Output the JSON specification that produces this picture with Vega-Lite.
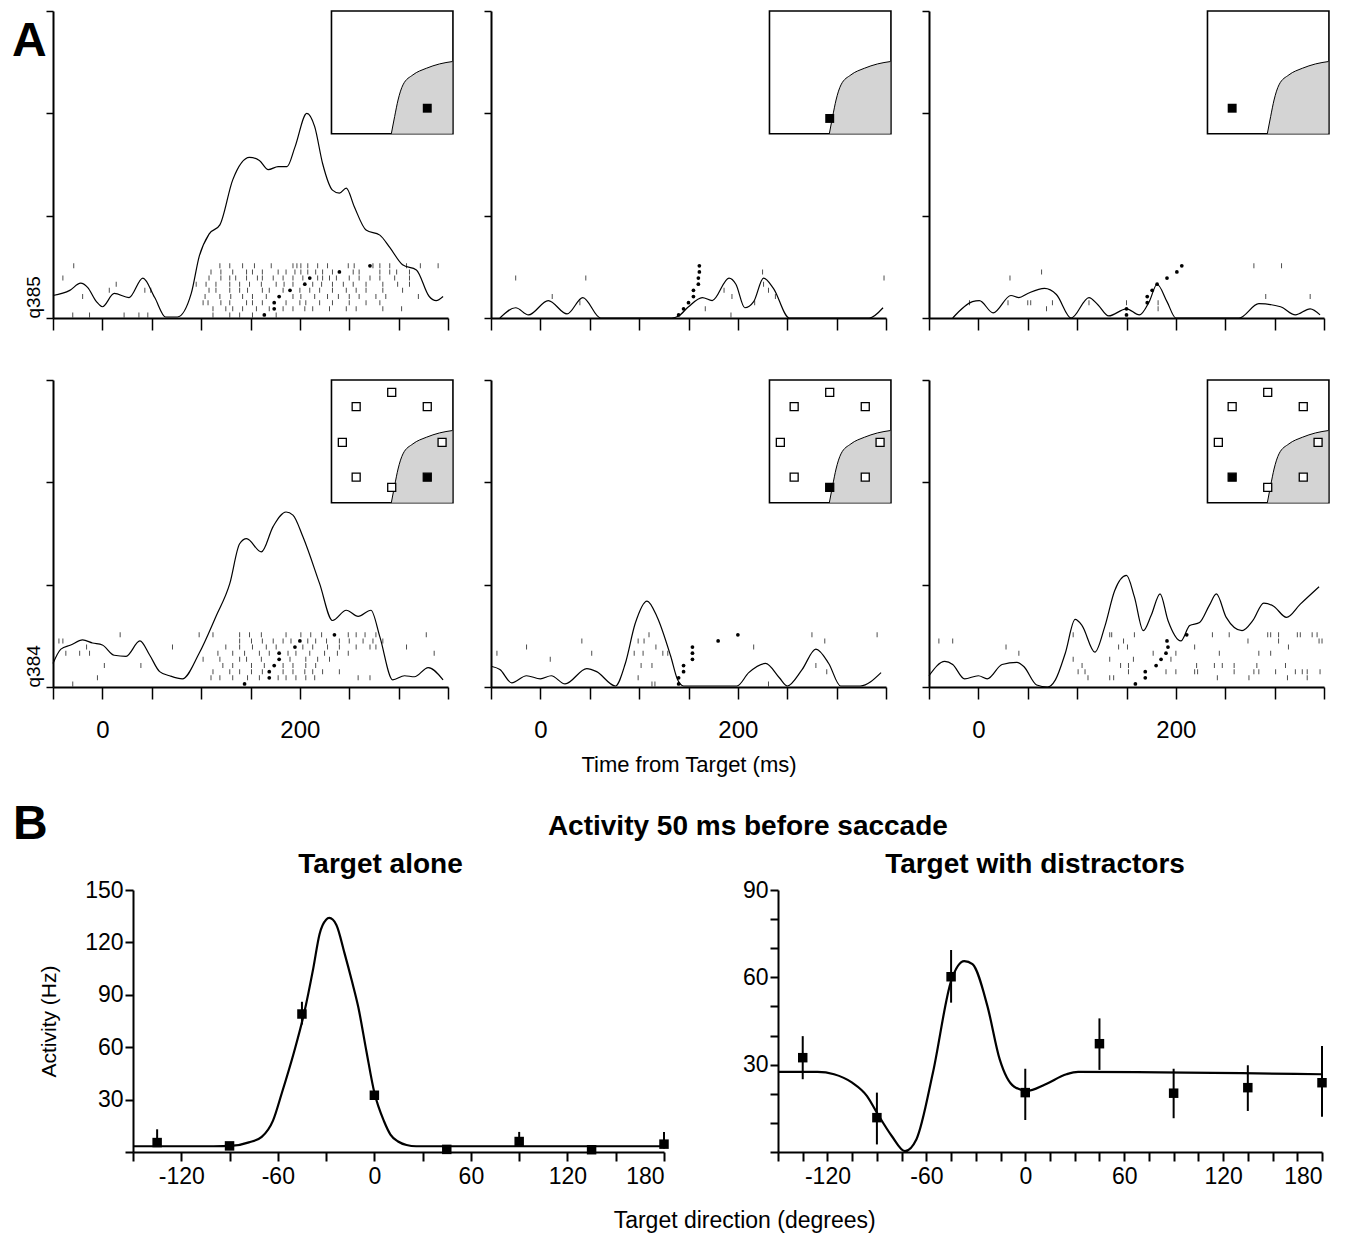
{
"$schema":"https://vega.github.io/schema/vega-lite/v6.json",
"background":"white",
"padding":{"left":12,"top":10,"right":3,"bottom":2},
"config":{"view":{"stroke":null},"font":"Liberation Sans","axis":{"domainColor":"black","tickColor":"black","labelColor":"black","titleColor":"black","grid":false,"labelFont":"Liberation Sans","titleFont":"Liberation Sans","titleFontWeight":"normal"},"title":{"font":"Liberation Sans","fontWeight":"bold","color":"black"}},
"datasets":{
"psth":[
{"p":"a11","t":-50,"v":22},{"p":"a11","t":-33,"v":27},{"p":"a11","t":-22,"v":34},{"p":"a11","t":-15,"v":30},{"p":"a11","t":-6,"v":16},{"p":"a11","t":0,"v":11},{"p":"a11","t":12,"v":24},{"p":"a11","t":27,"v":20},{"p":"a11","t":41,"v":39},{"p":"a11","t":53,"v":20},{"p":"a11","t":64,"v":1},{"p":"a11","t":76,"v":1},{"p":"a11","t":90,"v":24},{"p":"a11","t":98,"v":60},{"p":"a11","t":108,"v":82},{"p":"a11","t":119,"v":91},{"p":"a11","t":132,"v":135},{"p":"a11","t":149,"v":157},{"p":"a11","t":159,"v":154},{"p":"a11","t":168,"v":145},{"p":"a11","t":178,"v":148},{"p":"a11","t":187,"v":148},{"p":"a11","t":195,"v":167},{"p":"a11","t":207,"v":200},{"p":"a11","t":215,"v":187},{"p":"a11","t":223,"v":151},{"p":"a11","t":233,"v":125},{"p":"a11","t":240,"v":122},{"p":"a11","t":247,"v":127},{"p":"a11","t":255,"v":109},{"p":"a11","t":267,"v":86},{"p":"a11","t":281,"v":81},{"p":"a11","t":291,"v":69},{"p":"a11","t":304,"v":52},{"p":"a11","t":318,"v":47},{"p":"a11","t":331,"v":21},{"p":"a11","t":338,"v":17},{"p":"a11","t":345,"v":21},
{"p":"a12","t":-41,"v":0},{"p":"a12","t":-25,"v":10},{"p":"a12","t":-12,"v":3},{"p":"a12","t":8,"v":17},{"p":"a12","t":27,"v":4},{"p":"a12","t":43,"v":20},{"p":"a12","t":61,"v":0},{"p":"a12","t":133,"v":0},{"p":"a12","t":140,"v":2},{"p":"a12","t":150,"v":11},{"p":"a12","t":164,"v":20},{"p":"a12","t":174,"v":17},{"p":"a12","t":191,"v":39},{"p":"a12","t":198,"v":33},{"p":"a12","t":207,"v":10},{"p":"a12","t":216,"v":16},{"p":"a12","t":226,"v":39},{"p":"a12","t":236,"v":29},{"p":"a12","t":252,"v":0},{"p":"a12","t":333,"v":0},{"p":"a12","t":347,"v":10},
{"p":"a13","t":-26,"v":0},{"p":"a13","t":-6,"v":16},{"p":"a13","t":1,"v":17},{"p":"a13","t":15,"v":5},{"p":"a13","t":33,"v":22},{"p":"a13","t":41,"v":20},{"p":"a13","t":50,"v":24},{"p":"a13","t":67,"v":29},{"p":"a13","t":79,"v":23},{"p":"a13","t":94,"v":0},{"p":"a13","t":112,"v":20},{"p":"a13","t":121,"v":13},{"p":"a13","t":132,"v":2},{"p":"a13","t":150,"v":9},{"p":"a13","t":163,"v":3},{"p":"a13","t":173,"v":16},{"p":"a13","t":181,"v":33},{"p":"a13","t":191,"v":16},{"p":"a13","t":200,"v":0},{"p":"a13","t":264,"v":0},{"p":"a13","t":284,"v":14},{"p":"a13","t":306,"v":11},{"p":"a13","t":321,"v":3},{"p":"a13","t":336,"v":9},{"p":"a13","t":346,"v":3},
{"p":"a21","t":-50,"v":23},{"p":"a21","t":-42,"v":37},{"p":"a21","t":-32,"v":41},{"p":"a21","t":-20,"v":46},{"p":"a21","t":-10,"v":43},{"p":"a21","t":0,"v":41},{"p":"a21","t":12,"v":31},{"p":"a21","t":24,"v":30},{"p":"a21","t":38,"v":45},{"p":"a21","t":48,"v":31},{"p":"a21","t":58,"v":15},{"p":"a21","t":68,"v":11},{"p":"a21","t":81,"v":8},{"p":"a21","t":98,"v":33},{"p":"a21","t":115,"v":69},{"p":"a21","t":129,"v":101},{"p":"a21","t":139,"v":140},{"p":"a21","t":146,"v":145},{"p":"a21","t":161,"v":132},{"p":"a21","t":173,"v":157},{"p":"a21","t":186,"v":171},{"p":"a21","t":193,"v":168},{"p":"a21","t":203,"v":147},{"p":"a21","t":220,"v":101},{"p":"a21","t":233,"v":65},{"p":"a21","t":247,"v":75},{"p":"a21","t":259,"v":69},{"p":"a21","t":272,"v":75},{"p":"a21","t":281,"v":49},{"p":"a21","t":294,"v":7},{"p":"a21","t":306,"v":11},{"p":"a21","t":316,"v":10},{"p":"a21","t":330,"v":19},{"p":"a21","t":345,"v":7},
{"p":"a22","t":-49,"v":20},{"p":"a22","t":-41,"v":17},{"p":"a22","t":-29,"v":4},{"p":"a22","t":-14,"v":11},{"p":"a22","t":0,"v":8},{"p":"a22","t":11,"v":11},{"p":"a22","t":25,"v":3},{"p":"a22","t":47,"v":18},{"p":"a22","t":57,"v":15},{"p":"a22","t":76,"v":1},{"p":"a22","t":86,"v":23},{"p":"a22","t":96,"v":62},{"p":"a22","t":108,"v":84},{"p":"a22","t":118,"v":69},{"p":"a22","t":132,"v":30},{"p":"a22","t":139,"v":7},{"p":"a22","t":145,"v":1},{"p":"a22","t":199,"v":1},{"p":"a22","t":211,"v":14},{"p":"a22","t":228,"v":23},{"p":"a22","t":242,"v":9},{"p":"a22","t":250,"v":1},{"p":"a22","t":265,"v":17},{"p":"a22","t":279,"v":37},{"p":"a22","t":292,"v":23},{"p":"a22","t":304,"v":1},{"p":"a22","t":324,"v":1},{"p":"a22","t":345,"v":14},
{"p":"a23","t":-50,"v":11},{"p":"a23","t":-34,"v":25},{"p":"a23","t":-26,"v":22},{"p":"a23","t":-14,"v":8},{"p":"a23","t":0,"v":11},{"p":"a23","t":9,"v":8},{"p":"a23","t":24,"v":22},{"p":"a23","t":39,"v":24},{"p":"a23","t":46,"v":20},{"p":"a23","t":59,"v":2},{"p":"a23","t":70,"v":0},{"p":"a23","t":78,"v":7},{"p":"a23","t":88,"v":33},{"p":"a23","t":98,"v":66},{"p":"a23","t":105,"v":60},{"p":"a23","t":118,"v":34},{"p":"a23","t":128,"v":59},{"p":"a23","t":138,"v":94},{"p":"a23","t":150,"v":109},{"p":"a23","t":158,"v":88},{"p":"a23","t":167,"v":55},{"p":"a23","t":175,"v":70},{"p":"a23","t":184,"v":91},{"p":"a23","t":192,"v":65},{"p":"a23","t":205,"v":45},{"p":"a23","t":214,"v":60},{"p":"a23","t":224,"v":63},{"p":"a23","t":234,"v":80},{"p":"a23","t":241,"v":91},{"p":"a23","t":251,"v":68},{"p":"a23","t":267,"v":55},{"p":"a23","t":278,"v":65},{"p":"a23","t":289,"v":82},{"p":"a23","t":299,"v":79},{"p":"a23","t":312,"v":68},{"p":"a23","t":326,"v":81},{"p":"a23","t":345,"v":98}
],
"ras":[
{"p":"a11","t":-29,"v":51},{"p":"a11","t":119,"v":51},{"p":"a11","t":129,"v":51},{"p":"a11","t":142,"v":51},{"p":"a11","t":154,"v":51},{"p":"a11","t":171,"v":51},{"p":"a11","t":193,"v":51},{"p":"a11","t":197,"v":51},{"p":"a11","t":201,"v":51},{"p":"a11","t":208,"v":51},{"p":"a11","t":218,"v":51},{"p":"a11","t":228,"v":51},{"p":"a11","t":249,"v":51},{"p":"a11","t":255,"v":51},{"p":"a11","t":274,"v":51},{"p":"a11","t":281,"v":51},{"p":"a11","t":291,"v":51},{"p":"a11","t":308,"v":51},{"p":"a11","t":322,"v":51},{"p":"a11","t":340,"v":51},
{"p":"a11","t":110,"v":45},{"p":"a11","t":120,"v":45},{"p":"a11","t":132,"v":45},{"p":"a11","t":146,"v":45},{"p":"a11","t":152,"v":45},{"p":"a11","t":162,"v":45},{"p":"a11","t":178,"v":45},{"p":"a11","t":186,"v":45},{"p":"a11","t":195,"v":45},{"p":"a11","t":201,"v":45},{"p":"a11","t":208,"v":45},{"p":"a11","t":216,"v":45},{"p":"a11","t":223,"v":45},{"p":"a11","t":233,"v":45},{"p":"a11","t":254,"v":45},{"p":"a11","t":260,"v":45},{"p":"a11","t":281,"v":45},{"p":"a11","t":291,"v":45},{"p":"a11","t":298,"v":45},{"p":"a11","t":311,"v":45},
{"p":"a11","t":-40,"v":39},{"p":"a11","t":108,"v":39},{"p":"a11","t":120,"v":39},{"p":"a11","t":129,"v":39},{"p":"a11","t":135,"v":39},{"p":"a11","t":146,"v":39},{"p":"a11","t":157,"v":39},{"p":"a11","t":162,"v":39},{"p":"a11","t":173,"v":39},{"p":"a11","t":183,"v":39},{"p":"a11","t":193,"v":39},{"p":"a11","t":203,"v":39},{"p":"a11","t":218,"v":39},{"p":"a11","t":223,"v":39},{"p":"a11","t":230,"v":39},{"p":"a11","t":237,"v":39},{"p":"a11","t":250,"v":39},{"p":"a11","t":260,"v":39},{"p":"a11","t":271,"v":39},{"p":"a11","t":281,"v":39},{"p":"a11","t":296,"v":39},{"p":"a11","t":311,"v":39},
{"p":"a11","t":14,"v":33},{"p":"a11","t":95,"v":33},{"p":"a11","t":105,"v":33},{"p":"a11","t":115,"v":33},{"p":"a11","t":129,"v":33},{"p":"a11","t":139,"v":33},{"p":"a11","t":149,"v":33},{"p":"a11","t":161,"v":33},{"p":"a11","t":176,"v":33},{"p":"a11","t":184,"v":33},{"p":"a11","t":193,"v":33},{"p":"a11","t":213,"v":33},{"p":"a11","t":222,"v":33},{"p":"a11","t":233,"v":33},{"p":"a11","t":244,"v":33},{"p":"a11","t":254,"v":33},{"p":"a11","t":267,"v":33},{"p":"a11","t":284,"v":33},{"p":"a11","t":299,"v":33},{"p":"a11","t":311,"v":33},
{"p":"a11","t":7,"v":27},{"p":"a11","t":43,"v":27},{"p":"a11","t":49,"v":27},{"p":"a11","t":108,"v":27},{"p":"a11","t":115,"v":27},{"p":"a11","t":129,"v":27},{"p":"a11","t":139,"v":27},{"p":"a11","t":147,"v":27},{"p":"a11","t":162,"v":27},{"p":"a11","t":169,"v":27},{"p":"a11","t":183,"v":27},{"p":"a11","t":200,"v":27},{"p":"a11","t":210,"v":27},{"p":"a11","t":220,"v":27},{"p":"a11","t":233,"v":27},{"p":"a11","t":247,"v":27},{"p":"a11","t":257,"v":27},{"p":"a11","t":267,"v":27},{"p":"a11","t":284,"v":27},{"p":"a11","t":304,"v":27},
{"p":"a11","t":-20,"v":21},{"p":"a11","t":104,"v":21},{"p":"a11","t":119,"v":21},{"p":"a11","t":130,"v":21},{"p":"a11","t":142,"v":21},{"p":"a11","t":152,"v":21},{"p":"a11","t":166,"v":21},{"p":"a11","t":193,"v":21},{"p":"a11","t":201,"v":21},{"p":"a11","t":215,"v":21},{"p":"a11","t":228,"v":21},{"p":"a11","t":239,"v":21},{"p":"a11","t":250,"v":21},{"p":"a11","t":260,"v":21},{"p":"a11","t":277,"v":21},{"p":"a11","t":287,"v":21},{"p":"a11","t":320,"v":21},
{"p":"a11","t":102,"v":15},{"p":"a11","t":107,"v":15},{"p":"a11","t":120,"v":15},{"p":"a11","t":129,"v":15},{"p":"a11","t":146,"v":15},{"p":"a11","t":152,"v":15},{"p":"a11","t":162,"v":15},{"p":"a11","t":186,"v":15},{"p":"a11","t":200,"v":15},{"p":"a11","t":206,"v":15},{"p":"a11","t":220,"v":15},{"p":"a11","t":233,"v":15},{"p":"a11","t":250,"v":15},{"p":"a11","t":267,"v":15},{"p":"a11","t":281,"v":15},
{"p":"a11","t":112,"v":9},{"p":"a11","t":125,"v":9},{"p":"a11","t":132,"v":9},{"p":"a11","t":142,"v":9},{"p":"a11","t":156,"v":9},{"p":"a11","t":169,"v":9},{"p":"a11","t":183,"v":9},{"p":"a11","t":193,"v":9},{"p":"a11","t":205,"v":9},{"p":"a11","t":213,"v":9},{"p":"a11","t":230,"v":9},{"p":"a11","t":247,"v":9},{"p":"a11","t":257,"v":9},{"p":"a11","t":284,"v":9},{"p":"a11","t":303,"v":9},
{"p":"a11","t":-30,"v":3},{"p":"a11","t":-13,"v":3},{"p":"a11","t":22,"v":3},{"p":"a11","t":37,"v":3},{"p":"a11","t":46,"v":3},{"p":"a11","t":112,"v":3},{"p":"a11","t":129,"v":3},{"p":"a11","t":139,"v":3},{"p":"a11","t":152,"v":3},{"p":"a11","t":176,"v":3},
{"p":"a12","t":-25,"v":39},{"p":"a12","t":46,"v":39},{"p":"a12","t":348,"v":39},{"p":"a12","t":12,"v":21},{"p":"a12","t":40,"v":15},{"p":"a12","t":167,"v":9},{"p":"a12","t":186,"v":27},{"p":"a12","t":194,"v":21},{"p":"a12","t":225,"v":45},{"p":"a12","t":226,"v":33},{"p":"a12","t":231,"v":27},{"p":"a12","t":238,"v":21},{"p":"a12","t":217,"v":15},{"p":"a12","t":193,"v":3},
{"p":"a13","t":32,"v":39},{"p":"a13","t":64,"v":45},{"p":"a13","t":30,"v":15},{"p":"a13","t":50,"v":15},{"p":"a13","t":53,"v":15},{"p":"a13","t":75,"v":15},{"p":"a13","t":69,"v":9},{"p":"a13","t":-9,"v":15},{"p":"a13","t":112,"v":15},{"p":"a13","t":150,"v":15},{"p":"a13","t":182,"v":15},{"p":"a13","t":182,"v":9},{"p":"a13","t":279,"v":51},{"p":"a13","t":307,"v":51},{"p":"a13","t":291,"v":21},{"p":"a13","t":336,"v":21},
{"p":"a21","t":18,"v":51},{"p":"a21","t":98,"v":51},{"p":"a21","t":112,"v":51},{"p":"a21","t":139,"v":51},{"p":"a21","t":149,"v":51},{"p":"a21","t":161,"v":51},{"p":"a21","t":186,"v":51},{"p":"a21","t":201,"v":51},{"p":"a21","t":211,"v":51},{"p":"a21","t":222,"v":51},{"p":"a21","t":249,"v":51},{"p":"a21","t":257,"v":51},{"p":"a21","t":266,"v":51},{"p":"a21","t":277,"v":51},{"p":"a21","t":328,"v":51},
{"p":"a21","t":-44,"v":45},{"p":"a21","t":-40,"v":45},{"p":"a21","t":139,"v":45},{"p":"a21","t":151,"v":45},{"p":"a21","t":162,"v":45},{"p":"a21","t":173,"v":45},{"p":"a21","t":183,"v":45},{"p":"a21","t":191,"v":45},{"p":"a21","t":208,"v":45},{"p":"a21","t":216,"v":45},{"p":"a21","t":227,"v":45},{"p":"a21","t":240,"v":45},{"p":"a21","t":250,"v":45},{"p":"a21","t":264,"v":45},{"p":"a21","t":274,"v":45},{"p":"a21","t":284,"v":45},
{"p":"a21","t":-16,"v":39},{"p":"a21","t":71,"v":39},{"p":"a21","t":125,"v":39},{"p":"a21","t":139,"v":39},{"p":"a21","t":152,"v":39},{"p":"a21","t":166,"v":39},{"p":"a21","t":176,"v":39},{"p":"a21","t":203,"v":39},{"p":"a21","t":213,"v":39},{"p":"a21","t":228,"v":39},{"p":"a21","t":240,"v":39},{"p":"a21","t":257,"v":39},{"p":"a21","t":271,"v":39},{"p":"a21","t":277,"v":39},{"p":"a21","t":308,"v":39},
{"p":"a21","t":-37,"v":33},{"p":"a21","t":-23,"v":33},{"p":"a21","t":-13,"v":33},{"p":"a21","t":117,"v":33},{"p":"a21","t":132,"v":33},{"p":"a21","t":144,"v":33},{"p":"a21","t":159,"v":33},{"p":"a21","t":169,"v":33},{"p":"a21","t":188,"v":33},{"p":"a21","t":196,"v":33},{"p":"a21","t":210,"v":33},{"p":"a21","t":225,"v":33},{"p":"a21","t":238,"v":33},{"p":"a21","t":249,"v":33},{"p":"a21","t":336,"v":33},
{"p":"a21","t":102,"v":27},{"p":"a21","t":119,"v":27},{"p":"a21","t":139,"v":27},{"p":"a21","t":146,"v":27},{"p":"a21","t":161,"v":27},{"p":"a21","t":190,"v":27},{"p":"a21","t":206,"v":27},{"p":"a21","t":218,"v":27},{"p":"a21","t":230,"v":27},
{"p":"a21","t":2,"v":21},{"p":"a21","t":39,"v":21},{"p":"a21","t":122,"v":21},{"p":"a21","t":132,"v":21},{"p":"a21","t":151,"v":21},{"p":"a21","t":164,"v":21},{"p":"a21","t":183,"v":21},{"p":"a21","t":193,"v":21},{"p":"a21","t":206,"v":21},{"p":"a21","t":216,"v":21},
{"p":"a21","t":112,"v":15},{"p":"a21","t":129,"v":15},{"p":"a21","t":139,"v":15},{"p":"a21","t":151,"v":15},{"p":"a21","t":162,"v":15},{"p":"a21","t":183,"v":15},{"p":"a21","t":193,"v":15},{"p":"a21","t":205,"v":15},{"p":"a21","t":213,"v":15},{"p":"a21","t":223,"v":15},{"p":"a21","t":240,"v":15},
{"p":"a21","t":-5,"v":9},{"p":"a21","t":110,"v":9},{"p":"a21","t":119,"v":9},{"p":"a21","t":132,"v":9},{"p":"a21","t":147,"v":9},{"p":"a21","t":159,"v":9},{"p":"a21","t":178,"v":9},{"p":"a21","t":186,"v":9},{"p":"a21","t":196,"v":9},{"p":"a21","t":206,"v":9},{"p":"a21","t":215,"v":9},{"p":"a21","t":259,"v":9},{"p":"a21","t":271,"v":9},
{"p":"a21","t":-30,"v":3},
{"p":"a22","t":-44,"v":33},{"p":"a22","t":-14,"v":39},{"p":"a22","t":10,"v":27},{"p":"a22","t":42,"v":45},{"p":"a22","t":52,"v":33},{"p":"a22","t":99,"v":45},{"p":"a22","t":105,"v":45},{"p":"a22","t":110,"v":51},{"p":"a22","t":117,"v":39},{"p":"a22","t":95,"v":33},{"p":"a22","t":104,"v":33},{"p":"a22","t":124,"v":33},{"p":"a22","t":129,"v":33},{"p":"a22","t":102,"v":21},{"p":"a22","t":113,"v":21},{"p":"a22","t":99,"v":9},{"p":"a22","t":113,"v":3},{"p":"a22","t":116,"v":3},{"p":"a22","t":216,"v":39},{"p":"a22","t":231,"v":3},{"p":"a22","t":275,"v":51},{"p":"a22","t":288,"v":45},{"p":"a22","t":279,"v":21},{"p":"a22","t":290,"v":15},{"p":"a22","t":341,"v":51},
{"p":"a23","t":96,"v":51},{"p":"a23","t":133,"v":51},{"p":"a23","t":135,"v":51},{"p":"a23","t":158,"v":51},{"p":"a23","t":237,"v":51},{"p":"a23","t":254,"v":51},{"p":"a23","t":293,"v":51},{"p":"a23","t":296,"v":51},{"p":"a23","t":304,"v":51},{"p":"a23","t":323,"v":51},{"p":"a23","t":326,"v":51},{"p":"a23","t":338,"v":51},{"p":"a23","t":343,"v":51},
{"p":"a23","t":-40,"v":45},{"p":"a23","t":-26,"v":45},{"p":"a23","t":147,"v":45},{"p":"a23","t":273,"v":45},{"p":"a23","t":304,"v":45},{"p":"a23","t":345,"v":45},{"p":"a23","t":348,"v":45},
{"p":"a23","t":28,"v":39},{"p":"a23","t":142,"v":39},{"p":"a23","t":151,"v":39},{"p":"a23","t":219,"v":39},{"p":"a23","t":314,"v":39},
{"p":"a23","t":41,"v":33},{"p":"a23","t":177,"v":33},{"p":"a23","t":200,"v":33},{"p":"a23","t":244,"v":33},{"p":"a23","t":284,"v":33},{"p":"a23","t":296,"v":33},
{"p":"a23","t":96,"v":27},{"p":"a23","t":133,"v":27},{"p":"a23","t":157,"v":27},{"p":"a23","t":195,"v":27},
{"p":"a23","t":105,"v":21},{"p":"a23","t":144,"v":21},{"p":"a23","t":152,"v":21},{"p":"a23","t":221,"v":21},{"p":"a23","t":239,"v":21},{"p":"a23","t":247,"v":21},{"p":"a23","t":259,"v":21},{"p":"a23","t":282,"v":21},{"p":"a23","t":311,"v":21},
{"p":"a23","t":101,"v":15},{"p":"a23","t":108,"v":15},{"p":"a23","t":152,"v":15},{"p":"a23","t":190,"v":15},{"p":"a23","t":200,"v":15},{"p":"a23","t":219,"v":15},{"p":"a23","t":222,"v":15},{"p":"a23","t":259,"v":15},{"p":"a23","t":279,"v":15},{"p":"a23","t":284,"v":15},{"p":"a23","t":301,"v":15},{"p":"a23","t":321,"v":15},{"p":"a23","t":328,"v":15},{"p":"a23","t":333,"v":15},{"p":"a23","t":346,"v":15},
{"p":"a23","t":111,"v":9},{"p":"a23","t":133,"v":9},{"p":"a23","t":137,"v":9},{"p":"a23","t":242,"v":9},{"p":"a23","t":274,"v":9},{"p":"a23","t":313,"v":9},{"p":"a23","t":333,"v":9}
],
"dot":[
{"p":"a11","t":164,"v":3},{"p":"a11","t":174,"v":9},{"p":"a11","t":174,"v":15},{"p":"a11","t":179,"v":21},{"p":"a11","t":190,"v":27},{"p":"a11","t":205,"v":33},{"p":"a11","t":210,"v":39},{"p":"a11","t":240,"v":45},{"p":"a11","t":271,"v":51},
{"p":"a12","t":140,"v":3},{"p":"a12","t":145,"v":9},{"p":"a12","t":150,"v":15},{"p":"a12","t":155,"v":21},{"p":"a12","t":155,"v":27},{"p":"a12","t":160,"v":33},{"p":"a12","t":160,"v":39},{"p":"a12","t":161,"v":45},{"p":"a12","t":161,"v":51},
{"p":"a13","t":150,"v":3},{"p":"a13","t":150,"v":9},{"p":"a13","t":171,"v":15},{"p":"a13","t":171,"v":21},{"p":"a13","t":176,"v":27},{"p":"a13","t":181,"v":33},{"p":"a13","t":191,"v":39},{"p":"a13","t":201,"v":45},{"p":"a13","t":206,"v":51},
{"p":"a21","t":144,"v":3},{"p":"a21","t":169,"v":9},{"p":"a21","t":169,"v":15},{"p":"a21","t":174,"v":21},{"p":"a21","t":179,"v":27},{"p":"a21","t":179,"v":33},{"p":"a21","t":195,"v":39},{"p":"a21","t":200,"v":45},{"p":"a21","t":235,"v":51},
{"p":"a22","t":140,"v":3},{"p":"a22","t":140,"v":9},{"p":"a22","t":145,"v":15},{"p":"a22","t":145,"v":21},{"p":"a22","t":154,"v":27},{"p":"a22","t":154,"v":33},{"p":"a22","t":154,"v":39},{"p":"a22","t":180,"v":45},{"p":"a22","t":200,"v":51},
{"p":"a23","t":159,"v":3},{"p":"a23","t":169,"v":9},{"p":"a23","t":169,"v":15},{"p":"a23","t":180,"v":21},{"p":"a23","t":185,"v":27},{"p":"a23","t":190,"v":33},{"p":"a23","t":192,"v":39},{"p":"a23","t":191,"v":45},{"p":"a23","t":211,"v":51}
],
"box":[{"t":232,"t2":355,"v":180,"v2":300}],
"rf":[{"t":292.6,"v":180},{"t":296,"v":197},{"t":299.4,"v":213},{"t":304.4,"v":227.8},{"t":314.5,"v":237.6},{"t":328,"v":244},{"t":341.5,"v":248.3},{"t":354.4,"v":250.6}],
"sq":[{"d":90,"t":293,"v":288},{"d":135,"t":257,"v":274},{"d":45,"t":329,"v":274},{"d":180,"t":243,"v":239},{"d":0,"t":344,"v":239},{"d":-135,"t":257,"v":205},{"d":-90,"t":293,"v":195},{"d":-45,"t":329,"v":205}],
"bcur":[
{"g":"A","d":-150,"v":3.3},{"g":"A","d":-100,"v":3.3},{"g":"A","d":-88,"v":3.6},{"g":"A","d":-78,"v":5.5},{"g":"A","d":-70,"v":8.7},{"g":"A","d":-63,"v":18},{"g":"A","d":-57.5,"v":33.8},{"g":"A","d":-50,"v":57},{"g":"A","d":-43.6,"v":79.7},{"g":"A","d":-38,"v":105},{"g":"A","d":-34,"v":125},{"g":"A","d":-30,"v":133},{"g":"A","d":-28,"v":134},{"g":"A","d":-23.6,"v":130},{"g":"A","d":-18.6,"v":114},{"g":"A","d":-14,"v":98},{"g":"A","d":-10,"v":83},{"g":"A","d":-5,"v":58},{"g":"A","d":0,"v":34},{"g":"A","d":6,"v":17.6},{"g":"A","d":10,"v":10},{"g":"A","d":14.7,"v":6},{"g":"A","d":20,"v":4},{"g":"A","d":26,"v":3.3},{"g":"A","d":180,"v":3.3},
{"g":"D","d":-150,"v":27.5},{"g":"D","d":-126,"v":27.5},{"g":"D","d":-116,"v":26.7},{"g":"D","d":-105,"v":23.8},{"g":"D","d":-96,"v":19.2},{"g":"D","d":-90,"v":13.5},{"g":"D","d":-81,"v":5.5},{"g":"D","d":-73,"v":0.3},{"g":"D","d":-66,"v":4.4},{"g":"D","d":-56,"v":27.3},{"g":"D","d":-45,"v":58.7},{"g":"D","d":-37,"v":65.6},{"g":"D","d":-32,"v":64.5},{"g":"D","d":-23,"v":50.2},{"g":"D","d":-15.5,"v":31.8},{"g":"D","d":-6.7,"v":22.4},{"g":"D","d":1,"v":21},{"g":"D","d":12,"v":23.2},{"g":"D","d":25,"v":26.7},{"g":"D","d":32,"v":27.5},{"g":"D","d":180,"v":26.7}
],
"bpt":[
{"g":"A","d":-135,"v":5.4},{"g":"A","d":-90,"v":3.5},{"g":"A","d":-45,"v":79},{"g":"A","d":0,"v":32.5},{"g":"A","d":45,"v":1.5},{"g":"A","d":90,"v":6},{"g":"A","d":135,"v":1.3},{"g":"A","d":180,"v":4.5},
{"g":"D","d":-135,"v":32.4},{"g":"D","d":-90,"v":11.8},{"g":"D","d":-45,"v":60.2},{"g":"D","d":0,"v":20.4},{"g":"D","d":45,"v":37.2},{"g":"D","d":90,"v":20.2},{"g":"D","d":135,"v":22.1},{"g":"D","d":180,"v":23.8}
],
"berr":[
{"g":"A","d":-135,"v":3,"v2":13},{"g":"A","d":-45,"v":73,"v2":86},{"g":"A","d":90,"v":4,"v2":11.5},{"g":"A","d":180,"v":2,"v2":11.5},
{"g":"D","d":-135,"v":25,"v2":39.8},{"g":"D","d":-90,"v":2.6,"v2":20.4},{"g":"D","d":-45,"v":51.3,"v2":69.4},{"g":"D","d":0,"v":11,"v2":28.6},{"g":"D","d":45,"v":28.2,"v2":45.9},{"g":"D","d":90,"v":11.6,"v2":28.6},{"g":"D","d":135,"v":14.1,"v2":29.8},{"g":"D","d":180,"v":12.1,"v2":36.4}
]
},
"spacing":26,
"vconcat":[
{"columns":3,"align":"all","bounds":"flush","spacing":{"row":62,"column":43},
"concat":[
{"width":395,"height":307,
"title":{"text":"A","anchor":"start","frame":"group","fontSize":48,"dx":-41,"offset":-56},
"encoding":{"x":{"field":"t","type":"quantitative","scale":{"domain":[-50,350],"nice":false,"zero":false},"axis":{"values":[-50,0,50,100,150,200,250,300,350],"labels":false,"tickSize":12,"tickWidth":1.5,"domainWidth":2,"title":null}},
"y":{"field":"v","type":"quantitative","scale":{"domain":[0,300],"nice":false},"axis":{"values":[0,100,200,300],"labels":false,"tickSize":7,"tickWidth":1.5,"domainWidth":2,"title":"q385","titleAnchor":"start","titleAngle":270,"titlePadding":2,"titleFontSize":19}}},
"layer":[
{"data":{"values":[{}]},"mark":{"type":"rule","color":"black","strokeWidth":1},"encoding":{"x":{"datum":0},"y":{"datum":0},"y2":{"datum":300}}},
{"data":{"name":"psth"},"transform":[{"filter":"datum.p=='a11'"}],"mark":{"type":"line","color":"black","strokeWidth":1.2,"interpolate":"monotone"}},
{"data":{"name":"ras"},"transform":[{"filter":"datum.p=='a11'"}],"mark":{"type":"tick","orient":"vertical","color":"black","size":5,"thickness":1}},
{"data":{"name":"dot"},"transform":[{"filter":"datum.p=='a11'"}],"mark":{"type":"circle","color":"black","size":14,"opacity":1}},
{"data":{"name":"box"},"mark":{"type":"rect","fill":"white","stroke":"black","strokeWidth":1.6},"encoding":{"x2":{"field":"t2"},"y2":{"field":"v2"}}},
{"data":{"name":"rf"},"mark":{"type":"area","color":"#d4d4d4","opacity":1,"interpolate":"monotone","line":{"color":"black","strokeWidth":1}},"encoding":{"y2":{"datum":180}}},
{"data":{"name":"sq"},"transform":[{"filter":"datum.d==-45"}],"mark":{"type":"point","shape":"square","filled":true,"color":"black","size":80,"opacity":1}}
]},
{"width":395,"height":307,
"encoding":{"x":{"field":"t","type":"quantitative","scale":{"domain":[-50,350],"nice":false,"zero":false},"axis":{"values":[-50,0,50,100,150,200,250,300,350],"labels":false,"tickSize":12,"tickWidth":1.5,"domainWidth":2,"title":null}},
"y":{"field":"v","type":"quantitative","scale":{"domain":[0,300],"nice":false},"axis":{"values":[0,100,200,300],"labels":false,"tickSize":7,"tickWidth":1.5,"domainWidth":2,"title":null}}},
"layer":[
{"data":{"values":[{}]},"mark":{"type":"rule","color":"black","strokeWidth":1},"encoding":{"x":{"datum":0},"y":{"datum":0},"y2":{"datum":300}}},
{"data":{"name":"psth"},"transform":[{"filter":"datum.p=='a12'"}],"mark":{"type":"line","color":"black","strokeWidth":1.2,"interpolate":"monotone"}},
{"data":{"name":"ras"},"transform":[{"filter":"datum.p=='a12'"}],"mark":{"type":"tick","orient":"vertical","color":"black","size":5,"thickness":1}},
{"data":{"name":"dot"},"transform":[{"filter":"datum.p=='a12'"}],"mark":{"type":"circle","color":"black","size":14,"opacity":1}},
{"data":{"name":"box"},"mark":{"type":"rect","fill":"white","stroke":"black","strokeWidth":1.6},"encoding":{"x2":{"field":"t2"},"y2":{"field":"v2"}}},
{"data":{"name":"rf"},"mark":{"type":"area","color":"#d4d4d4","opacity":1,"interpolate":"monotone","line":{"color":"black","strokeWidth":1}},"encoding":{"y2":{"datum":180}}},
{"data":{"name":"sq"},"transform":[{"filter":"datum.d==-90"}],"mark":{"type":"point","shape":"square","filled":true,"color":"black","size":80,"opacity":1}}
]},
{"width":395,"height":307,
"encoding":{"x":{"field":"t","type":"quantitative","scale":{"domain":[-50,350],"nice":false,"zero":false},"axis":{"values":[-50,0,50,100,150,200,250,300,350],"labels":false,"tickSize":12,"tickWidth":1.5,"domainWidth":2,"title":null}},
"y":{"field":"v","type":"quantitative","scale":{"domain":[0,300],"nice":false},"axis":{"values":[0,100,200,300],"labels":false,"tickSize":7,"tickWidth":1.5,"domainWidth":2,"title":null}}},
"layer":[
{"data":{"values":[{}]},"mark":{"type":"rule","color":"black","strokeWidth":1},"encoding":{"x":{"datum":0},"y":{"datum":0},"y2":{"datum":300}}},
{"data":{"name":"psth"},"transform":[{"filter":"datum.p=='a13'"}],"mark":{"type":"line","color":"black","strokeWidth":1.2,"interpolate":"monotone"}},
{"data":{"name":"ras"},"transform":[{"filter":"datum.p=='a13'"}],"mark":{"type":"tick","orient":"vertical","color":"black","size":5,"thickness":1}},
{"data":{"name":"dot"},"transform":[{"filter":"datum.p=='a13'"}],"mark":{"type":"circle","color":"black","size":14,"opacity":1}},
{"data":{"name":"box"},"mark":{"type":"rect","fill":"white","stroke":"black","strokeWidth":1.6},"encoding":{"x2":{"field":"t2"},"y2":{"field":"v2"}}},
{"data":{"name":"rf"},"mark":{"type":"area","color":"#d4d4d4","opacity":1,"interpolate":"monotone","line":{"color":"black","strokeWidth":1}},"encoding":{"y2":{"datum":180}}},
{"data":{"name":"sq"},"transform":[{"filter":"datum.d==-135"}],"mark":{"type":"point","shape":"square","filled":true,"color":"black","size":80,"opacity":1}}
]},
{"width":395,"height":307,
"encoding":{"x":{"field":"t","type":"quantitative","scale":{"domain":[-50,350],"nice":false,"zero":false},"axis":{"values":[-50,0,50,100,150,200,250,300,350],"labelExpr":"datum.value==0||datum.value==200?datum.label:''","labelFontSize":24,"labelPadding":19,"tickSize":12,"tickWidth":1.5,"domainWidth":2,"title":null}},
"y":{"field":"v","type":"quantitative","scale":{"domain":[0,300],"nice":false},"axis":{"values":[0,100,200,300],"labels":false,"tickSize":7,"tickWidth":1.5,"domainWidth":2,"title":"q384","titleAnchor":"start","titleAngle":270,"titlePadding":2,"titleFontSize":19}}},
"layer":[
{"data":{"values":[{}]},"mark":{"type":"rule","color":"black","strokeWidth":1},"encoding":{"x":{"datum":0},"y":{"datum":0},"y2":{"datum":300}}},
{"data":{"name":"psth"},"transform":[{"filter":"datum.p=='a21'"}],"mark":{"type":"line","color":"black","strokeWidth":1.2,"interpolate":"monotone"}},
{"data":{"name":"ras"},"transform":[{"filter":"datum.p=='a21'"}],"mark":{"type":"tick","orient":"vertical","color":"black","size":5,"thickness":1}},
{"data":{"name":"dot"},"transform":[{"filter":"datum.p=='a21'"}],"mark":{"type":"circle","color":"black","size":14,"opacity":1}},
{"data":{"name":"box"},"mark":{"type":"rect","fill":"white","stroke":"black","strokeWidth":1.6},"encoding":{"x2":{"field":"t2"},"y2":{"field":"v2"}}},
{"data":{"name":"rf"},"mark":{"type":"area","color":"#d4d4d4","opacity":1,"interpolate":"monotone","line":{"color":"black","strokeWidth":1}},"encoding":{"y2":{"datum":180}}},
{"data":{"name":"sq"},"mark":{"type":"point","shape":"square","filled":true,"stroke":"black","strokeWidth":1.3,"size":64,"opacity":1},"encoding":{"fill":{"condition":{"test":"datum.d==-45","value":"black"},"value":"white"}}}
]},
{"width":395,"height":307,
"encoding":{"x":{"field":"t","type":"quantitative","scale":{"domain":[-50,350],"nice":false,"zero":false},"axis":{"values":[-50,0,50,100,150,200,250,300,350],"labelExpr":"datum.value==0||datum.value==200?datum.label:''","labelFontSize":24,"labelPadding":19,"tickSize":12,"tickWidth":1.5,"domainWidth":2,"title":"Time from Target (ms)","titleFontSize":22,"titlePadding":12}},
"y":{"field":"v","type":"quantitative","scale":{"domain":[0,300],"nice":false},"axis":{"values":[0,100,200,300],"labels":false,"tickSize":7,"tickWidth":1.5,"domainWidth":2,"title":null}}},
"layer":[
{"data":{"values":[{}]},"mark":{"type":"rule","color":"black","strokeWidth":1},"encoding":{"x":{"datum":0},"y":{"datum":0},"y2":{"datum":300}}},
{"data":{"name":"psth"},"transform":[{"filter":"datum.p=='a22'"}],"mark":{"type":"line","color":"black","strokeWidth":1.2,"interpolate":"monotone"}},
{"data":{"name":"ras"},"transform":[{"filter":"datum.p=='a22'"}],"mark":{"type":"tick","orient":"vertical","color":"black","size":5,"thickness":1}},
{"data":{"name":"dot"},"transform":[{"filter":"datum.p=='a22'"}],"mark":{"type":"circle","color":"black","size":14,"opacity":1}},
{"data":{"name":"box"},"mark":{"type":"rect","fill":"white","stroke":"black","strokeWidth":1.6},"encoding":{"x2":{"field":"t2"},"y2":{"field":"v2"}}},
{"data":{"name":"rf"},"mark":{"type":"area","color":"#d4d4d4","opacity":1,"interpolate":"monotone","line":{"color":"black","strokeWidth":1}},"encoding":{"y2":{"datum":180}}},
{"data":{"name":"sq"},"mark":{"type":"point","shape":"square","filled":true,"stroke":"black","strokeWidth":1.3,"size":64,"opacity":1},"encoding":{"fill":{"condition":{"test":"datum.d==-90","value":"black"},"value":"white"}}}
]},
{"width":395,"height":307,
"encoding":{"x":{"field":"t","type":"quantitative","scale":{"domain":[-50,350],"nice":false,"zero":false},"axis":{"values":[-50,0,50,100,150,200,250,300,350],"labelExpr":"datum.value==0||datum.value==200?datum.label:''","labelFontSize":24,"labelPadding":19,"tickSize":12,"tickWidth":1.5,"domainWidth":2,"title":null}},
"y":{"field":"v","type":"quantitative","scale":{"domain":[0,300],"nice":false},"axis":{"values":[0,100,200,300],"labels":false,"tickSize":7,"tickWidth":1.5,"domainWidth":2,"title":null}}},
"layer":[
{"data":{"values":[{}]},"mark":{"type":"rule","color":"black","strokeWidth":1},"encoding":{"x":{"datum":0},"y":{"datum":0},"y2":{"datum":300}}},
{"data":{"name":"psth"},"transform":[{"filter":"datum.p=='a23'"}],"mark":{"type":"line","color":"black","strokeWidth":1.2,"interpolate":"monotone"}},
{"data":{"name":"ras"},"transform":[{"filter":"datum.p=='a23'"}],"mark":{"type":"tick","orient":"vertical","color":"black","size":5,"thickness":1}},
{"data":{"name":"dot"},"transform":[{"filter":"datum.p=='a23'"}],"mark":{"type":"circle","color":"black","size":14,"opacity":1}},
{"data":{"name":"box"},"mark":{"type":"rect","fill":"white","stroke":"black","strokeWidth":1.6},"encoding":{"x2":{"field":"t2"},"y2":{"field":"v2"}}},
{"data":{"name":"rf"},"mark":{"type":"area","color":"#d4d4d4","opacity":1,"interpolate":"monotone","line":{"color":"black","strokeWidth":1}},"encoding":{"y2":{"datum":180}}},
{"data":{"name":"sq"},"mark":{"type":"point","shape":"square","filled":true,"stroke":"black","strokeWidth":1.3,"size":64,"opacity":1},"encoding":{"fill":{"condition":{"test":"datum.d==-135","value":"black"},"value":"white"}}}
]}
]},
{"title":{"text":"Activity 50 ms before saccade","fontSize":28,"anchor":"middle","frame":"bounds","offset":-40,"dx":78},
"vconcat":[
{"bounds":"flush","spacing":0,
"hconcat":[
{"width":80,"height":262,"title":{"text":"B","anchor":"start","frame":"group","fontSize":48,"dx":-40,"offset":41},
"data":{"values":[{}]},"mark":{"type":"point","opacity":0}},
{"title":{"text":"Target direction (degrees)","orient":"bottom","anchor":"middle","frame":"bounds","fontSize":23,"fontWeight":"normal","dx":62,"offset":22},
"bounds":"flush","spacing":114,
"hconcat":[
{"width":531,"height":262,
"title":{"text":"Target alone","fontSize":28,"frame":"group","anchor":"middle","dx":-18,"offset":0},
"encoding":{"x":{"field":"d","type":"quantitative","scale":{"domain":[-150,180],"nice":false,"zero":false},"axis":{"values":[-150,-120,-90,-60,-30,0,30,60,90,120,150,180],"labelExpr":"indexof([-120,-60,0,60,120,180],datum.value)>=0?''+datum.value:''","labelFontSize":23,"labelPadding":4,"tickSize":9,"tickWidth":2,"domainWidth":2,"title":null}},
"y":{"field":"v","type":"quantitative","scale":{"domain":[0,150],"nice":false},"axis":{"values":[0,30,60,90,120,150],"labelExpr":"datum.value==0?'':datum.label","labelFontSize":23,"labelPadding":2,"tickSize":8,"tickWidth":2,"domainWidth":2,"title":"Activity (Hz)","titleFontSize":21,"titlePadding":25}}},
"layer":[
{"data":{"name":"bcur"},"transform":[{"filter":"datum.g=='A'"}],"mark":{"type":"line","color":"black","strokeWidth":2.2,"interpolate":"monotone"}},
{"data":{"name":"berr"},"transform":[{"filter":"datum.g=='A'"}],"mark":{"type":"rule","color":"black","strokeWidth":2},"encoding":{"y2":{"field":"v2"}}},
{"data":{"name":"bpt"},"transform":[{"filter":"datum.g=='A'"}],"mark":{"type":"point","shape":"square","filled":true,"color":"black","size":90,"opacity":1}}
]},
{"width":544,"height":262,
"title":{"text":"Target with distractors","fontSize":28,"frame":"group","anchor":"middle","dx":-15,"offset":0},
"encoding":{"x":{"field":"d","type":"quantitative","scale":{"domain":[-150,180],"nice":false,"zero":false},"axis":{"values":[-150,-135,-120,-105,-90,-75,-60,-45,-30,-15,0,15,30,45,60,75,90,105,120,135,150,165,180],"labelExpr":"indexof([-120,-60,0,60,120,180],datum.value)>=0?''+datum.value:''","labelFontSize":23,"labelPadding":4,"tickSize":9,"tickWidth":2,"domainWidth":2,"title":null}},
"y":{"field":"v","type":"quantitative","scale":{"domain":[0,90],"nice":false},"axis":{"values":[0,10,20,30,40,50,60,70,80,90],"labelExpr":"datum.value%30==0&&datum.value>0?datum.label:''","labelFontSize":23,"labelPadding":2,"tickSize":8,"tickWidth":2,"domainWidth":2,"title":null}}},
"layer":[
{"data":{"name":"bcur"},"transform":[{"filter":"datum.g=='D'"}],"mark":{"type":"line","color":"black","strokeWidth":2.2,"interpolate":"monotone"}},
{"data":{"name":"berr"},"transform":[{"filter":"datum.g=='D'"}],"mark":{"type":"rule","color":"black","strokeWidth":2},"encoding":{"y2":{"field":"v2"}}},
{"data":{"name":"bpt"},"transform":[{"filter":"datum.g=='D'"}],"mark":{"type":"point","shape":"square","filled":true,"color":"black","size":90,"opacity":1}}
]}
]}
]}
]}
]
}
